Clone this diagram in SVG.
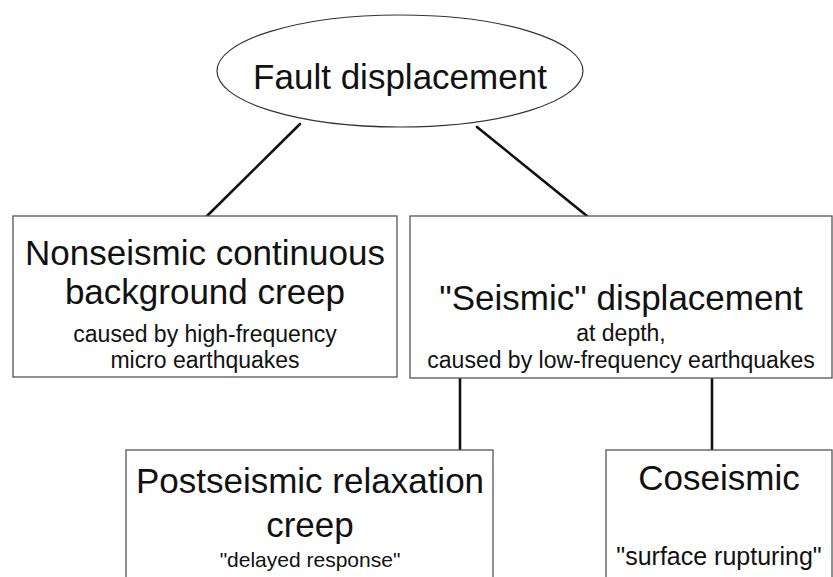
<svg xmlns="http://www.w3.org/2000/svg" width="833" height="577" viewBox="0 0 833 577">
<style>
.box{fill:#fff;stroke:#555;stroke-width:1.3}
.ell{fill:#fff;stroke:#333;stroke-width:1.2}
.con{stroke:#111;stroke-width:2.6;fill:none;stroke-linecap:round}
text{font-family:"Liberation Sans",Arial,sans-serif;fill:#111;text-anchor:middle}
.big{font-size:35px}
.mid{font-size:23px}
</style>
<rect width="833" height="577" fill="#fff"/>
<g id="connectors">
<line class="con" x1="300" y1="124" x2="207" y2="216"/>
<line class="con" x1="477" y1="127" x2="587" y2="216"/>
<line class="con" x1="460" y1="378" x2="460" y2="450"/>
<line class="con" x1="712" y1="378" x2="712" y2="450"/>
</g>
<g id="fault">
<ellipse class="ell" cx="400" cy="71" rx="183" ry="56"/>
<text class="big" x="400" y="89">Fault displacement</text>
</g>
<g id="nonseismic">
<rect class="box" x="13" y="216" width="384" height="161"/>
<text class="big" x="205" y="265">Nonseismic continuous</text>
<text class="big" x="205" y="304">background creep</text>
<text class="mid" x="205" y="342">caused by high-frequency</text>
<text class="mid" x="205" y="368">micro earthquakes</text>
</g>
<g id="seismic">
<rect class="box" x="410" y="216" width="422" height="162"/>
<text class="big" x="621" y="310">"Seismic" displacement</text>
<text class="mid" x="621" y="341">at depth,</text>
<text class="mid" x="621" y="368">caused by low-frequency earthquakes</text>
</g>
<g id="postseismic">
<rect class="box" x="126" y="450" width="367" height="140"/>
<text class="big" x="310" y="493">Postseismic relaxation</text>
<text class="big" x="310" y="537">creep</text>
<text class="mid" x="310" y="567" style="font-size:21px">"delayed response"</text>
</g>
<g id="coseismic">
<rect class="box" x="606" y="450" width="226" height="140"/>
<text class="big" x="719" y="490">Coseismic</text>
<text class="mid" x="719" y="565" style="font-size:25px">"surface rupturing"</text>
</g>
</svg>
